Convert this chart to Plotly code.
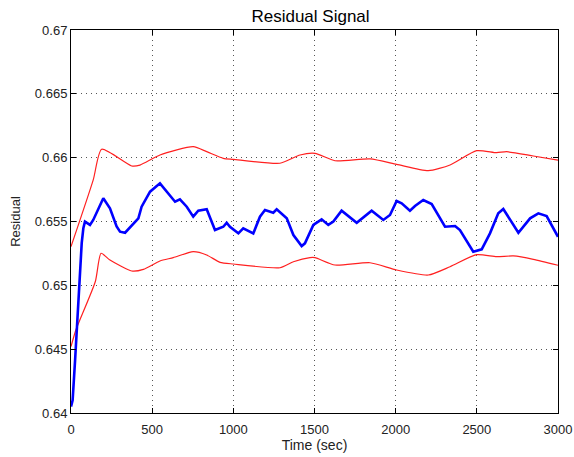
import plotly.graph_objects as go

# Blue residual signal
t_res = [0, 10, 25, 45, 66, 76, 86, 117, 137, 199, 240, 281, 302, 333, 374, 415, 435, 487, 548, 589,
         641, 671, 713, 753, 784, 836, 887, 938, 959, 979, 1031, 1061, 1123, 1164, 1195, 1246, 1267,
         1329, 1370, 1421, 1441, 1493, 1544, 1585, 1616, 1667, 1760, 1852, 1924, 1965, 2006, 2037,
         2088, 2119, 2170, 2222, 2304, 2366, 2396, 2478, 2530, 2581, 2632, 2663, 2704, 2756, 2828,
         2879, 2930, 3000]
residual = [0.6405, 0.6410, 0.6441, 0.6489, 0.6533, 0.65447, 0.65499, 0.65473, 0.65512, 0.65682,
            0.65603, 0.65462, 0.65420, 0.65412, 0.65473, 0.65525, 0.65616, 0.65734, 0.65799, 0.65734,
            0.65655, 0.65674, 0.65616, 0.65538, 0.65585, 0.65596, 0.65433, 0.65459, 0.65490, 0.65459,
            0.65407, 0.65447, 0.65407, 0.65538, 0.65590, 0.65569, 0.65596, 0.65525, 0.65394, 0.65308,
            0.65329, 0.65473, 0.65517, 0.65473, 0.65499, 0.65585, 0.65490, 0.65585, 0.65512, 0.65551,
            0.65661, 0.65643, 0.65585, 0.65621, 0.65668, 0.65637, 0.65459, 0.65465, 0.65433, 0.65263,
            0.65282, 0.65407, 0.65564, 0.65598, 0.65512, 0.65412, 0.65525, 0.65564, 0.65543, 0.65380]

# Red bounds
t_up = [0, 137, 189, 374, 425, 548, 753, 836, 938, 1000, 1287, 1411, 1503, 1626, 1842, 2006, 2201,
        2335, 2499, 2622, 2684, 2848, 3000]
upper = [0.65303, 0.65826, 0.66066, 0.65935, 0.65942, 0.66021, 0.66086, 0.66047, 0.65995, 0.65987,
         0.65956, 0.66021, 0.66034, 0.65976, 0.65990, 0.65948, 0.65898, 0.65943, 0.66055, 0.66039,
         0.66047, 0.66013, 0.65980]
t_lo = [0, 30, 150, 185, 240, 374, 446, 548, 630, 753, 836, 918, 1000, 1287, 1370, 1472, 1503, 1626,
        1842, 2006, 2201, 2335, 2499, 2622, 2725, 2848, 3000]
lower = [0.6452, 0.6465, 0.6503, 0.65251, 0.65198, 0.65112, 0.65125, 0.65191, 0.65217, 0.65264,
         0.65238, 0.65180, 0.65167, 0.65138, 0.65185, 0.65217, 0.65217, 0.65159, 0.65177, 0.65120,
         0.65081, 0.65146, 0.65240, 0.65225, 0.65230, 0.65204, 0.65157]

x_ticks = [0, 500, 1000, 1500, 2000, 2500, 3000]
x_labels = ["0", "500", "1000", "1500", "2000", "2500", "3000"]
y_ticks = [0.64, 0.645, 0.65, 0.655, 0.66, 0.665, 0.67]
y_labels = ["0.64", "0.645", "0.65", "0.655", "0.66", "0.665", "0.67"]

fig = go.Figure()
fig.add_trace(go.Scatter(x=t_up, y=upper, mode="lines", line=dict(color="#ff2020", width=1.2, shape="spline", smoothing=0.6)))
fig.add_trace(go.Scatter(x=t_lo, y=lower, mode="lines", line=dict(color="#ff2020", width=1.2, shape="spline", smoothing=0.6)))
fig.add_trace(go.Scatter(x=t_res, y=residual, mode="lines", line=dict(color="#0000ff", width=2.6)))

font = "Liberation Sans, Arial"
axis_common = dict(
    showline=True, linecolor="black", linewidth=1, mirror="allticks",
    ticks="inside", ticklen=5, tickcolor="black", automargin=False,
    ticklabeloverflow="allow",
    showgrid=True, gridcolor="#555555", griddash="1px,4px", gridwidth=1,
    zeroline=False, tickfont=dict(family=font, size=13, color="#222222"),
)

fig.update_layout(
    width=574, height=457,
    margin=dict(l=71, r=16, t=30, b=44),
    paper_bgcolor="white", plot_bgcolor="white",
    showlegend=False,
    title=dict(text="Residual Signal", x=0.541, xanchor="center", y=0.965, yanchor="middle",
               font=dict(family=font, size=17, color="black")),
    xaxis=dict(range=[0, 3000], tickvals=x_ticks, ticktext=x_labels, ticklabelstandoff=4,
               title=dict(text="Time (sec)", standoff=2,
                          font=dict(family=font, size=14, color="#222222")),
               **axis_common),
    yaxis=dict(range=[0.64, 0.67], tickvals=y_ticks, ticktext=y_labels,
               title=dict(text="Residual", standoff=11,
                          font=dict(family=font, size=13, color="#222222")),
               **axis_common),
)

# remove the default page margin so the figure fills the window exactly
fig.write_html("out.html",
               config={"displayModeBar": False},
               post_script="document.body.style.margin='0';document.body.style.overflow='hidden';")
